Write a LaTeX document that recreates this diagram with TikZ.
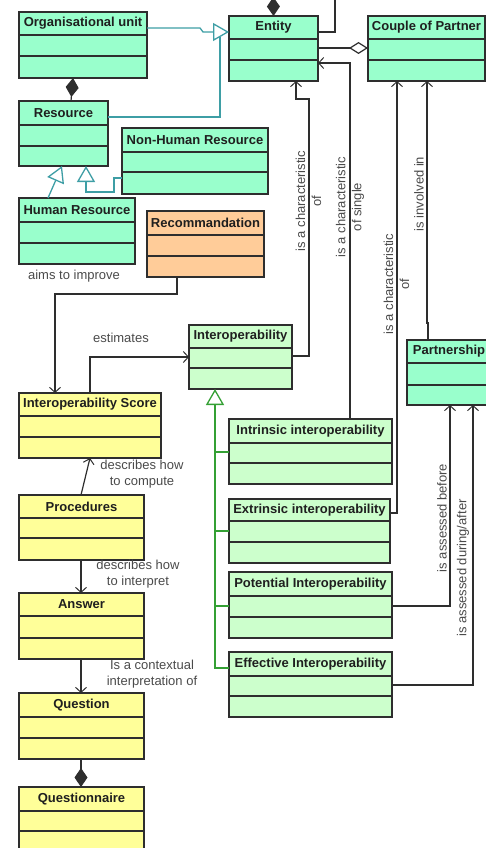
\documentclass[tikz,border=0pt]{standalone}
\usepackage{fontspec}
\setmainfont{Liberation Sans}
\usetikzlibrary{arrows.meta}
\definecolor{mint}{HTML}{99FFCC}
\definecolor{lgreen}{HTML}{CCFFCC}
\definecolor{lyellow}{HTML}{FFFF99}
\definecolor{lorange}{HTML}{FFCC99}
\definecolor{tealc}{HTML}{3E9EA5}
\definecolor{genc}{HTML}{34A034}
\definecolor{boxc}{HTML}{2E2E2E}
\definecolor{labc}{HTML}{4A4A4A}
\newcommand{\umlclass}[9]{%
  \draw[boxc,line width=1.2pt,fill=#2] (#3,#4) rectangle (#5,#6);
  \node[inner sep=0pt,outer sep=0pt,minimum width=#5pt-#3pt,minimum height=#6pt-#4pt,anchor=north west] (#1) at (#3,#4) {};
  \draw[boxc,line width=1.2pt] (#3,#7) -- (#5,#7);
  \draw[boxc,line width=1.2pt] (#3,#8) -- (#5,#8);
  \node[titletext] (#1-t) at ({(#3+#5)/2},{(#4+#7)/2}) {#9};
}
\tikzset{
  titletext/.style={font=\fontsize{13}{15}\selectfont\bfseries, text=black!88, inner sep=0pt},
  lab/.style={font=\fontsize{13}{16}\selectfont, text=labc, align=center, inner sep=0pt},
  conn/.style={draw=boxc, line width=1.2pt},
  tconn/.style={draw=tealc, line width=1.3pt},
  gconn/.style={draw=genc, line width=1.3pt},
  barb/.style={-{Straight Barb[length=5pt,width=11pt,line width=1pt]}},
  gentri/.style={-{Triangle[fill=white,length=16pt,width=18pt,line width=1.3pt]}},
}
\begin{document}
\begin{tikzpicture}[x=1pt,y=-1pt]
\useasboundingbox (0,0) rectangle (486,848);
% classes
\umlclass{orgunit}{mint}{19}{12}{147}{78}{35}{56}{Organisational unit}
\umlclass{entity}{mint}{229}{16}{318}{81}{39}{60}{Entity}
\umlclass{couple}{mint}{368}{16}{485}{81}{39}{60}{Couple of Partner}
\umlclass{resource}{mint}{19}{101}{108}{166}{125}{146}{Resource}
\umlclass{nonhuman}{mint}{122}{128}{268}{194}{152}{172}{Non-Human Resource}
\umlclass{humanres}{mint}{19}{198}{135}{264}{222}{243}{Human Resource}
\umlclass{recomm}{lorange}{147}{211}{264}{277}{235}{256}{Recommandation}
\umlclass{interop}{lgreen}{189}{325}{292}{389}{348}{368}{Interoperability}
\umlclass{partnership}{mint}{407}{340}{491}{405}{363}{385}{Partnership}
\umlclass{score}{lyellow}{19}{393}{161}{458}{416}{437}{Interoperability Score}
\umlclass{intrinsic}{lgreen}{229}{419}{392}{484}{443}{463}{Intrinsic interoperability}
\umlclass{extrinsic}{lgreen}{229}{499}{390}{563}{521}{542}{Extrinsic interoperability}
\umlclass{potential}{lgreen}{229}{572}{392}{638}{596}{617}{Potential Interoperability}
\umlclass{effective}{lgreen}{229}{652}{392}{717}{676}{696}{Effective Interoperability}
\umlclass{procedures}{lyellow}{19}{495}{144}{560}{518}{538}{Procedures}
\umlclass{answer}{lyellow}{19}{593}{144}{659}{616}{638}{Answer}
\umlclass{question}{lyellow}{19}{693}{144}{759}{717}{738}{Question}
\umlclass{questionnaire}{lyellow}{19}{787}{144}{852}{811}{831}{Questionnaire}
% free ends
\coordinate (genjoin) at (220,37);
\coordinate (offtopA) at (273,-30);
\coordinate (offtopB) at (335,-30);
% teal generalisations
\draw[tconn,gentri] (orgunit.east |- 0,28) -- (200,28) -- (203,32) -- (entity.west |- 0,32);
\draw[tconn] (resource.east |- 0,117) -- (220,117) -- (genjoin);
\draw[tconn,gentri] (humanres.north -| 48,0) -- (resource.south -| 62,0);
\draw[tconn,gentri] (nonhuman.west |- 0,178) -- (114,178) -- (114,192) -- (86,192) -- (resource.south -| 86,0);
% compositions / aggregation
\draw[conn,{Diamond[length=19pt,width=13pt]}-] (orgunit.south -| 73,0) -- (resource.north -| 71,0);
\draw[conn,{Diamond[length=19pt,width=13pt]}-] (entity.north) -- (offtopA);
\draw[conn] (entity.east |- 0,32) -- (335,32) -- (offtopB);
\draw[conn,-{Diamond[fill=white,length=19pt,width=12pt,line width=1.2pt]}] (entity.east |- 0,48) -- (couple.west |- 0,48);
\draw[conn,-{Diamond[length=19pt,width=13pt]}] (question.south -| 81,0) -- (questionnaire.north -| 81,0);
% associations
\draw[conn,barb] (interop.east |- 0,356) -- (309,356) -- (309,99) -- (296,99) -- (entity.south -| 296,0);
\draw[conn,barb] (intrinsic.north -| 350,0) -- (350,63) -- (entity.east |- 0,63);
\draw[conn,barb] (extrinsic.east |- 0,513) -- (397,513) -- (couple.south -| 397,0);
\draw[conn,barb] (partnership.north -| 428,0) -- (428,323) -- (427,323) -- (couple.south -| 427,0);
\draw[conn,barb] (potential.east |- 0,606) -- (450,606) -- (partnership.south -| 450,0);
\draw[conn,barb] (effective.east |- 0,685) -- (473,685) -- (partnership.south -| 473,0);
\draw[conn,barb] (recomm.south -| 177,0) -- (177,294) -- (55,294) -- (score.north -| 55,0);
\draw[conn,barb] (score.north -| 90,0) -- (90,357) -- (interop.west |- 0,357);
\draw[conn,barb] (procedures.north -| 81,0) -- (score.south -| 90,0);
\draw[conn,barb] (procedures.south -| 81,0) -- (answer.north -| 81,0);
\draw[conn,barb] (answer.south -| 81,0) -- (question.north -| 81,0);
% green generalisation
\draw[gconn,gentri] (effective.west |- 0,668) -- (215,668) -- (interop.south -| 215,0);
\draw[gconn] (intrinsic.west |- 0,452) -- (215,452);
\draw[gconn] (extrinsic.west |- 0,531) -- (215,531);
\draw[gconn] (potential.west |- 0,606) -- (215,606);
% labels
\node[lab] (l1) at (74,276) {aims to improve};
\node[lab] (l2) at (121,338) {estimates};
\node[lab] (l3) at (142,474) {describes how\\to compute};
\node[lab] (l4) at (138,574) {describes how\\to interpret};
\node[lab] (l5) at (152,674) {Is a contextual\\interpretation of};
\node[lab,rotate=90] (l6) at (308.5,201) {is a characteristic\\of};
\node[lab,rotate=90] (l7) at (350,207) {is a characteristic\\of single};
\node[lab,rotate=90] (l8) at (396.5,284) {is a characteristic\\of};
\node[lab,rotate=90] (l9) at (419,194) {is involved in};
\node[lab,rotate=90] (l10) at (442,518) {is assessed before};
\node[lab,rotate=90] (l11) at (463,568) {is assessed during/after};
\end{tikzpicture}
\end{document}
